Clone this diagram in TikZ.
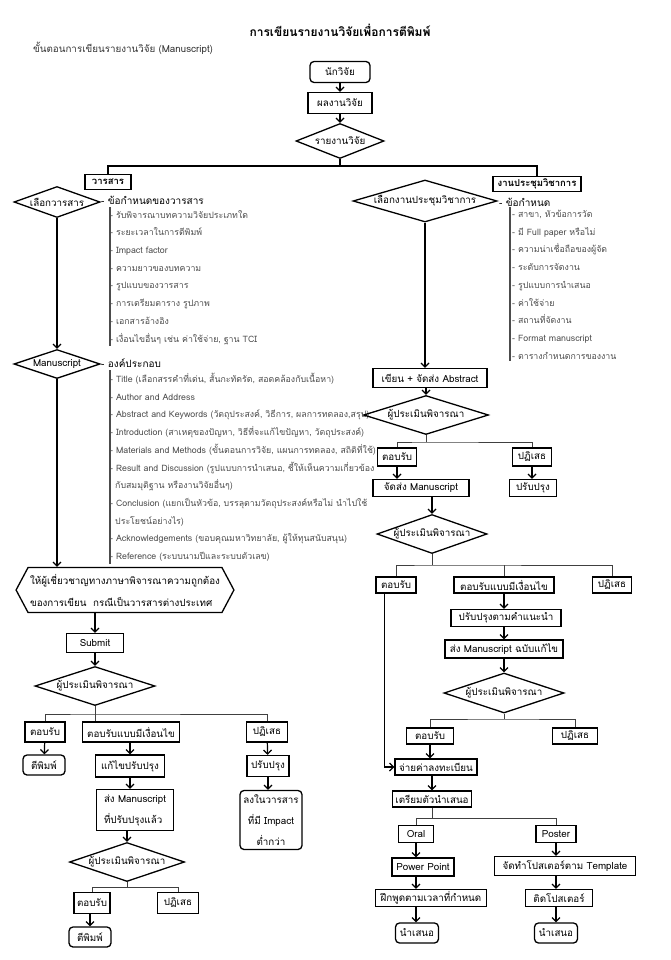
\documentclass[tikz,border=0pt]{standalone}
\usepackage{fontspec}
\setmainfont{Loma}[Script=Thai]
\usetikzlibrary{
    arrows.meta,
    shapes.geometric, % diamond
    shapes.symbols    % signal
}

\begin{document}
\begin{tikzpicture}[x=1pt, y=-1pt,
    box/.style={draw, line width=1.3pt, minimum height=17pt, inner xsep=3pt, inner ysep=1pt,
        font=\fontsize{9.8}{11}\selectfont},
    rbox/.style={box, rounded corners=4pt},
    head/.style={box, minimum height=15pt, inner ysep=0pt, font=\bfseries\fontsize{9.5}{11}\selectfont},
    choice/.style={draw, diamond, aspect=3, line width=1.3pt, inner sep=0pt, font=\fontsize{9.8}{11}\selectfont},
    arrow/.style={-{Straight Barb[length=4pt,width=8pt]}, line width=1.2pt},
    link/.style={line width=1.2pt},
    branch/.style={line width=0.9pt, black!75},
    items/.style={align=left, inner sep=0pt, text=black!70, font=\fontsize{8.8}{17.7}\selectfont},
    bar/.style={line width=1.2pt, black!70}
]
    \useasboundingbox (0,0) rectangle (671,960);

    % heading
    \node[font=\bfseries\fontsize{12}{14}\selectfont] (title) at (340,30) {การเขียนรายงานวิจัยเพื่อการตีพิมพ์};
    \node[anchor=west, inner sep=0pt, text=black!80, font=\fontsize{9.8}{11}\selectfont] (subtitle) at (33,48)
        {ขั้นตอนการเขียนรายงานวิจัย (Manuscript)};

    % top of the chart
    \node[rbox, minimum width=60pt, minimum height=21pt] (researcher) at (340,72) {นักวิจัย};
    \node[box, minimum width=64pt, minimum height=21pt]  (result)     at (340,103) {ผลงานวิจัย};
    \node[choice, aspect=2.5, minimum width=88pt, minimum height=35pt] (report) at (340,141) {รายงานวิจัย};
    \coordinate (split) at (340,166);
    \node[head, minimum width=46pt] (journal) at (108,182) {วารสาร};
    \node[head, minimum width=88pt] (conf)    at (537,184) {งานประชุมวิชาการ};

    % journal side
    \node[choice, aspect=2.8, minimum width=86pt, minimum height=31pt] (pickj) at (57,202) {เลือกวารสาร};
    \node[anchor=west, inner sep=0pt, font=\fontsize{10}{12}\selectfont] (jreq) at (101,200) {- ข้อกำหนดของวารสาร};
    \node[items, anchor=north west] (jlist) at (110,210) {%
        - รับพิจารณาบทความวิจัยประเภทใด\\
        - ระยะเวลาในการตีพิมพ์\\
        - Impact factor\\
        - ความยาวของบทความ\\
        - รูปแบบของวารสาร\\
        - การเตรียมตาราง รูปภาพ\\
        - เอกสารอ้างอิง\\
        - เงื่อนไขอื่นๆ เช่น ค่าใช้จ่าย, ฐาน TCI};
    \draw[bar] ([yshift=3pt]jlist.north west) -- ([yshift=-2pt]jlist.south west);

    \node[choice, aspect=3, minimum width=86pt, minimum height=29pt] (manus) at (57,364) {Manuscript};
    \node[anchor=west, inner sep=0pt, font=\fontsize{10}{12}\selectfont] (parts) at (101,363) {- องค์ประกอบ};
    \node[items, anchor=north west] (plist) at (110,373) {%
        - Title (เลือกสรรคำที่เด่น, สั้นกะทัดรัด, สอดคล้องกับเนื้อหา)\\
        - Author and Address\\
        - Abstract and Keywords (วัตถุประสงค์, วิธีการ, ผลการทดลอง,สรุป)\\
        - Introduction (สาเหตุของปัญหา, วิธีที่จะแก้ไขปัญหา, วัตถุประสงค์)\\
        - Materials and Methods (ขั้นตอนการวิจัย, แผนการทดลอง, สถิติที่ใช้)\\
        - Result and Discussion (รูปแบบการนำเสนอ, ชี้ให้เห็นความเกี่ยวข้อง\\
        \hspace*{5pt}กับสมมุติฐาน หรืองานวิจัยอื่นๆ)\\
        - Conclusion (แยกเป็นหัวข้อ, บรรลุตามวัตถุประสงค์หรือไม่ นำไปใช้\\
        \hspace*{5pt}ประโยชน์อย่างไร)\\
        - Acknowledgements (ขอบคุณมหาวิทยาลัย, ผู้ให้ทุนสนับสนุน)\\
        - Reference (ระบบนามปีและระบบตัวเลข)};
    \draw[bar] ([yshift=3pt]plist.north west) -- ([yshift=-2pt]plist.south west);

    \node[draw, signal, signal to=west and east, signal pointer angle=124, line width=1.3pt,
        minimum width=214pt, minimum height=45pt, inner sep=2pt, align=left,
        font=\fontsize{9.8}{22}\selectfont] (expert) at (125,590)
        {ให้ผู้เชี่ยวชาญทางภาษาพิจารณาความถูกต้อง\\ของการเขียน\ \ กรณีเป็นวารสารต่างประเทศ};
    \node[box, minimum width=57pt, minimum height=19pt] (submit) at (95,643) {Submit};
    \node[choice, minimum width=120pt, minimum height=39pt] (judge1) at (95,686) {ผู้ประเมินพิจารณา};
    \coordinate (split1) at (95,714);
    \node[box, minimum width=40pt, minimum height=20pt] (yes1)  at (45,732)  {ตอบรับ};
    \node[box, minimum width=97pt, minimum height=20pt] (cond1) at (131,732) {ตอบรับแบบมีเงื่อนไข};
    \node[box, minimum width=41pt, minimum height=20pt] (no1)   at (267,732) {ปฏิเสธ};
    \node[rbox, minimum width=42pt, minimum height=20pt] (print1) at (44,765)  {ตีพิมพ์};
    \node[box, minimum width=69pt, minimum height=22pt]  (fix1)   at (130,766) {แก้ไขปรับปรุง};
    \node[box, minimum width=42pt, minimum height=21pt]  (redo1)  at (268,766) {ปรับปรุง};
    \node[box, minimum width=77pt, minimum height=41pt, align=left, font=\fontsize{9.8}{21}\selectfont]
        (resub1) at (135,810) {ส่ง Manuscript\\ที่ปรับปรุงแล้ว};
    \node[rbox, minimum width=62pt, minimum height=59pt, align=center, font=\fontsize{9.8}{21}\selectfont]
        (lower) at (271,820) {ลงในวารสาร\\ที่มี Impact\\ต่ำกว่า};
    \node[choice, minimum width=115pt, minimum height=39pt] (judge2) at (127,862) {ผู้ประเมินพิจารณา};
    \coordinate (split2) at (127,887);
    \node[box, minimum width=34pt, minimum height=21pt] (yes2) at (92,903)  {ตอบรับ};
    \node[box, minimum width=41pt, minimum height=21pt] (no2)  at (178,903) {ปฏิเสธ};
    \node[rbox, minimum width=42pt, minimum height=20pt] (print2) at (90,937) {ตีพิมพ์};

    % conference side
    \node[choice, aspect=3.4, minimum width=144pt, minimum height=42pt] (pickc) at (425,201) {เลือกงานประชุมวิชาการ};
    \node[anchor=west, inner sep=0pt, font=\fontsize{10}{12}\selectfont] (creq) at (499,202) {- ข้อกำหนด};
    \node[items, anchor=north west] (clist) at (512,210) {%
        - สาขา, หัวข้อการวัด\\
        - มี Full paper หรือไม่\\
        - ความน่าเชื่อถือของผู้จัด\\
        - ระดับการจัดงาน\\
        - รูปแบบการนำเสนอ\\
        - ค่าใช้จ่าย\\
        - สถานที่จัดงาน\\
        - Format manuscript\\
        - ตารางกำหนดการของงาน};
    \draw[bar] ([xshift=-2pt,yshift=3pt]clist.north west) -- ([xshift=-2pt,yshift=-2pt]clist.south west);

    \node[box, minimum width=114pt, minimum height=19pt] (abstract) at (430,378) {เขียน + จัดส่ง Abstract};
    \node[choice, minimum width=125pt, minimum height=39pt] (judge3) at (426,415) {ผู้ประเมินพิจารณา};
    \coordinate (split3) at (426,442);
    \node[box, minimum width=39pt, minimum height=18pt] (yes3)  at (397,457) {ตอบรับ};
    \node[box, minimum width=39pt, minimum height=18pt] (no3)   at (532,457) {ปฏิเสธ};
    \node[box, minimum width=96pt] (send)  at (421,488) {จัดส่ง Manuscript};
    \node[box, minimum width=47pt] (redo3) at (533,488) {ปรับปรุง};
    \node[choice, minimum width=110pt, minimum height=39pt] (judge4) at (432,534) {ผู้ประเมินพิจารณา};
    \coordinate (split4) at (432,565);
    \node[box, minimum width=40pt, minimum height=16pt]  (yes4)  at (396,585) {ตอบรับ};
    \node[box, minimum width=100pt, minimum height=16pt] (cond4) at (504,585) {ตอบรับแบบมีเงื่อนไข};
    \node[box, minimum width=39pt, minimum height=16pt]  (no4)   at (612,585) {ปฏิเสธ};
    \node[box, minimum width=110pt] (fix4)   at (506,618) {ปรับปรุงตามคำแนะนำ};
    \node[box, minimum width=118pt, minimum height=18pt] (resub4) at (504,649) {ส่ง Manuscript ฉบับแก้ไข};
    \node[choice, minimum width=120pt, minimum height=40pt] (judge5) at (504,693) {ผู้ประเมินพิจารณา};
    \coordinate (split5) at (504,719);
    \node[box, minimum width=47pt, minimum height=16pt] (yes5) at (430,736) {ตอบรับ};
    \node[box, minimum width=45pt, minimum height=16pt] (no5)  at (575,736) {ปฏิเสธ};
    \node[box, minimum width=82pt, minimum height=16pt] (pay)  at (436,767) {จ่ายค่าลงทะเบียน};
    \node[box, minimum width=71pt, minimum height=16pt] (prep) at (432,799) {เตรียมตัวนำเสนอ};
    \coordinate (split6) at (432,818);
    \node[box, minimum width=35pt]  (oral)     at (416,834) {Oral};
    \node[box, minimum width=40pt]  (poster)   at (556,834) {Poster};
    \node[box, minimum width=62pt, minimum height=18pt]  (ppt)  at (423,867) {Power Point};
    \node[box, minimum width=141pt, minimum height=19pt] (tmpl) at (565,866) {จัดทำโปสเตอร์ตาม Template};
    \node[box, minimum width=111pt] (practice) at (431,898) {ฝึกพูดตามเวลาที่กำหนด};
    \node[box, minimum width=67pt]  (stick)    at (559,898) {ติดโปสเตอร์};
    \node[rbox, minimum width=43pt, minimum height=20pt] (show1) at (417,933) {นำเสนอ};
    \node[rbox, minimum width=43pt, minimum height=20pt] (show2) at (556,933) {นำเสนอ};

    % connectors, top
    \draw[arrow] (researcher) -- (result);
    \draw[arrow] (result) -- (report);
    \draw[link] (report.south) -- (split);
    \draw[link] (journal.north) |- (split) -| (conf.north);

    % connectors, journal
    \draw[arrow] (pickj.south) -- (manus.north);
    \draw[arrow] (manus.south) -- (manus.south |- expert.north);
    \draw[arrow] (expert.south -| submit) -- (submit.north);
    \draw[arrow] (submit) -- (judge1);
    \draw[branch] (yes1.north) |- (split1) -| (no1.north);
    \draw[branch] (judge1.south) -- (judge1.south |- cond1.north);
    \draw[arrow] (yes1) -- (print1);
    \draw[arrow] (cond1.south -| fix1) -- (fix1.north);
    \draw[arrow] (no1) -- (redo1);
    \draw[arrow] (fix1.south) -- (fix1.south |- resub1.north);
    \draw[arrow] (redo1.south) -- (redo1.south |- lower.north);
    \draw[arrow] (resub1.south -| judge2) -- (judge2.north);
    \draw[branch] (judge2.south) -- (split2);
    \draw[branch] (yes2.north) |- (split2) -| (no2.north);
    \draw[arrow] (yes2.south -| print2) -- (print2.north);

    % connectors, conference
    \draw[arrow] (pickc.south) -- (pickc.south |- abstract.north);
    \draw[arrow] (abstract.south -| judge3) -- (judge3.north);
    \draw[branch] (judge3.south) -- (split3);
    \draw[branch] (yes3.north) |- (split3) -| (no3.north);
    \draw[arrow] (yes3.south) -- (yes3.south |- send.north);
    \draw[arrow] (no3.south) -- (no3.south |- redo3.north);
    \draw[arrow] (send.south -| judge4) -- (judge4.north);
    \draw[branch] (judge4.south) -- (split4);
    \draw[branch] (yes4.north) |- (split4) -| (no4.north);
    \draw[branch] (cond4.north) -- (cond4.north |- split4);
    \draw[arrow] (cond4.south) -- (cond4.south |- fix4.north);
    \draw[arrow] (fix4.south -| resub4) -- (resub4.north);
    \draw[arrow] (resub4) -- (judge5);
    \draw[branch] (judge5.south) -- (split5);
    \draw[branch] (yes5.north) |- (split5) -| (no5.north);
    \draw[arrow] ([xshift=9pt]yes4.south west) |- (pay.west);
    \draw[arrow] (yes5.south) -- (yes5.south |- pay.north);
    \draw[arrow] (pay.south -| prep) -- (prep.north);
    \draw[branch] (prep.south) -- (split6);
    \draw[branch] (oral.north) |- (split6) -| (poster.north);
    \draw[arrow] (oral.south) -- (oral.south |- ppt.north);
    \draw[arrow] (poster.south) -- (poster.south |- tmpl.north);
    \draw[arrow] (ppt.south -| oral) -- (oral |- practice.north);
    \draw[arrow] (tmpl.south -| poster) -- (poster |- stick.north);
    \draw[arrow] (practice.south -| oral) -- (oral |- show1.north);
    \draw[arrow] (stick.south -| poster) -- (poster |- show2.north);
\end{tikzpicture}
\end{document}
